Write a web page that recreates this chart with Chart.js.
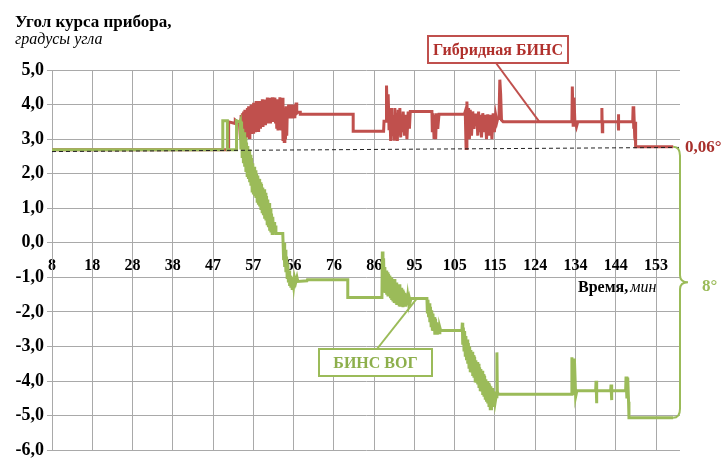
<!DOCTYPE html>
<html>
<head>
<meta charset="utf-8">
<script src="https://cdn.jsdelivr.net/npm/chart.js@4/dist/chart.umd.min.js"></script>
<style>
  html, body { margin: 0; padding: 0; background: #fff; }
  #wrap { width: 721px; height: 464px; position: relative; }
</style>
</head>
<body>
<div id="wrap"><canvas id="chart"></canvas></div>
<script>
// Time axis labels (minutes), evenly spaced along the axis
const timeLabels = ['8','18','28','38','47','57','66','76','86','95','105','115','124','134','144','153'];
const timeStart = 8;
const timeEnd = 153;
const timeMax = 158.75;

// БИНС ВОГ heading, [minute, degrees]
const vogSamples = [
  [8,2.69],[49.0,2.69],[49.0,3.53],[50.1,3.53],[50.1,2.69],[52.3,2.69],[52.3,3.53],[53.1,3.5],
  [53.2,3.53],[53.35,2.7],[53.5,3.5],[53.65,2.5],[53.8,3.3],[53.95,2.3],[54.1,3.2],[54.25,2.2],
  [54.4,3.05],[54.55,2.05],[54.7,2.9],[54.85,1.95],[55.0,2.8],[55.15,1.85],[55.3,2.7],[55.45,1.75],
  [55.6,2.55],[55.75,1.65],[55.9,2.45],[56.05,1.5],[56.2,2.3],[56.35,1.4],[56.5,2.2],[56.65,1.35],
  [56.8,2.1],[56.95,1.3],[57.1,2.0],[57.25,1.2],[57.4,1.95],[57.55,1.1],[57.7,1.85],[57.85,1.05],
  [58.0,1.75],[58.15,0.95],[58.3,1.7],[58.45,0.9],[58.6,1.6],[58.75,0.8],[58.9,1.55],[59.05,0.7],
  [59.2,1.45],[59.35,0.65],[59.5,1.35],[59.65,0.55],[59.8,1.25],[59.95,0.45],[60.1,1.15],[60.25,0.35],
  [60.4,1.0],[60.55,0.3],[60.7,0.85],[60.85,0.27],[61.0,0.75],[61.15,0.27],[61.3,0.6],[61.45,0.27],
  [61.6,0.5],[61.75,0.27],[63.4,0.27],[63.5,-0.1],[63.6,-0.5],[63.7,0.0],[63.85,-0.7],[64.0,-0.2],
  [64.15,-0.85],[64.3,-0.4],[64.45,-1.0],[64.6,-0.6],[64.75,-1.15],[64.9,-0.8],[65.05,-1.25],[65.2,-0.95],
  [65.35,-1.3],[65.5,-1.0],[65.65,-1.32],[65.8,-1.05],[66.0,-1.25],[66.2,-1.0],[66.5,-1.15],[66.8,-1.0],
  [67.0,-1.12],[69.2,-1.1],[69.3,-1.07],[79.0,-1.07],[79.0,-1.58],[87.2,-1.58],
  [87.3,-0.25],[87.45,-1.3],[87.6,-0.45],[87.75,-1.4],[87.9,-0.7],[88.05,-1.45],[88.2,-0.8],[88.35,-1.5],
  [88.5,-0.85],[88.65,-1.55],[88.8,-0.9],[88.95,-1.5],[89.1,-0.95],[89.25,-1.6],[89.4,-1.0],[89.55,-1.65],
  [89.7,-1.05],[89.85,-1.7],[90.0,-1.1],[90.15,-1.7],[90.3,-1.05],[90.45,-1.75],[90.6,-1.15],[90.75,-1.8],
  [90.9,-1.2],[91.05,-1.75],[91.2,-1.25],[91.35,-1.8],[91.5,-1.2],[91.65,-1.85],[91.8,-1.3],[91.95,-1.8],
  [92.1,-1.35],[92.25,-1.86],[92.4,-1.4],[92.55,-1.8],[92.7,-1.45],[92.85,-1.85],[93.0,-1.5],[93.2,-1.8],
  [93.4,-1.55],[93.6,-1.75],[93.8,-1.6],[94.0,-1.7],[94.2,-1.61],[98.0,-1.61],
  [98.1,-2.0],[98.25,-1.65],[98.4,-2.15],[98.55,-1.75],[98.7,-2.3],[98.85,-1.85],[99.0,-2.4],[99.15,-1.95],
  [99.3,-2.5],[99.45,-2.05],[99.6,-2.55],[99.75,-2.15],[99.9,-2.66],[100.05,-2.2],[100.2,-2.6],[100.35,-2.3],
  [100.5,-2.66],[100.7,-2.35],[100.9,-2.6],[101.1,-2.45],[101.3,-2.54],[106.4,-2.54],
  [106.5,-2.31],[106.6,-2.95],[106.75,-2.45],[106.9,-3.1],[107.05,-2.55],[107.2,-3.25],[107.35,-2.7],[107.5,-3.4],
  [107.65,-2.8],[107.8,-3.5],[107.95,-2.9],[108.1,-3.6],[108.25,-3.0],[108.4,-3.7],[108.55,-3.1],[108.7,-3.75],
  [108.85,-3.15],[109.0,-3.85],[109.15,-3.25],[109.3,-3.9],[109.45,-3.3],[109.6,-4.0],[109.75,-3.4],[109.9,-4.05],
  [110.05,-3.45],[110.2,-4.1],[110.35,-3.5],[110.5,-4.2],[110.65,-3.6],[110.8,-4.25],[110.95,-3.65],[111.1,-4.3],
  [111.25,-3.7],[111.4,-4.4],[111.55,-3.8],[111.7,-4.45],[111.85,-3.85],[112.0,-4.5],[112.15,-3.95],[112.3,-4.6],
  [112.45,-4.0],[112.6,-4.65],[112.75,-4.05],[112.9,-4.75],[113.05,-4.1],[113.2,-4.8],[113.35,-4.15],[113.5,-4.84],
  [113.65,-4.2],[113.8,-4.75],[113.95,-4.3],[114.1,-4.7],[114.25,-4.35],[114.4,-4.6],[114.6,-4.45],[114.8,-3.17],
  [114.9,-4.3],[115.1,-4.38],[132.8,-4.38],[132.8,-3.31],[133.1,-4.4],[133.4,-3.35],[133.7,-4.45],[134.0,-4.28],
  [138.5,-4.28],[138.6,-3.99],[138.7,-4.64],[138.8,-4.28],[142.1,-4.28],[142.2,-4.1],[142.3,-4.55],[142.4,-4.28],
  [145.7,-4.28],[145.8,-3.87],[146.0,-4.5],[146.2,-3.9],[146.4,-4.6],[146.5,-5.06],[157.1,-5.06]
];

// Гибридная БИНС heading, [minute, degrees]
const hybridSamples = [
  [8,2.69],[50.4,2.69],[50.4,3.5],[52.0,3.45],[52.0,3.55],[53.0,3.45],
  [53.1,3.45],[53.25,3.0],[53.4,3.7],[53.55,2.9],[53.7,3.75],[53.85,2.95],[54.0,3.8],[54.15,3.0],
  [54.3,3.85],[54.45,2.95],[54.6,3.75],[54.75,3.05],[54.9,3.9],[55.05,3.1],[55.2,3.95],[55.35,3.05],
  [55.5,3.9],[55.65,3.2],[55.8,4.0],[55.95,3.15],[56.1,3.95],[56.25,3.2],[56.4,4.05],[56.55,3.25],
  [56.7,3.95],[56.85,3.2],[57.0,4.1],[57.15,3.3],[57.3,4.0],[57.45,3.25],[57.6,4.1],[57.75,3.35],
  [57.9,4.05],[58.05,3.3],[58.2,4.1],[58.35,3.4],[58.5,4.15],[58.65,3.35],[58.8,4.05],[58.95,3.45],
  [59.1,4.15],[59.25,3.4],[59.4,4.1],[59.55,3.5],[59.7,4.2],[59.85,3.45],[60.0,4.1],[60.15,3.5],
  [60.3,4.2],[60.45,3.45],[60.6,4.15],[60.75,3.55],[60.9,4.21],[61.05,3.5],[61.2,4.15],[61.35,3.55],
  [61.5,4.2],[61.65,3.45],[61.8,4.1],[61.95,3.3],[62.1,4.15],[62.25,3.25],[62.4,4.1],[62.55,3.3],
  [62.7,4.21],[62.85,3.3],[63.0,4.15],[63.15,3.25],[63.3,4.2],[63.45,2.95],[63.6,3.9],[63.75,2.93],
  [63.9,3.85],[64.05,3.0],[64.2,3.95],[64.35,3.1],[64.5,3.9],[64.65,3.6],[64.8,4.0],[64.95,3.65],
  [65.1,3.95],[65.25,3.6],[65.4,4.0],[65.55,3.65],[65.7,3.95],[65.85,3.6],[66.0,4.0],[66.15,3.65],
  [66.3,3.9],[66.45,3.7],[66.6,4.06],[66.75,3.75],[67.0,3.78],[67.6,3.78],[67.6,3.72],[80.3,3.72],
  [80.3,3.23],[87.6,3.23],[87.7,3.52],[88.2,3.52],
  [88.3,4.55],[88.5,3.5],[88.7,4.3],[88.9,3.3],[89.1,3.8],[89.3,2.95],[89.5,3.9],[89.7,3.1],
  [89.9,3.7],[90.1,3.0],[90.3,3.9],[90.5,3.2],[90.7,3.75],[90.9,2.95],[91.1,3.85],[91.3,3.15],
  [91.5,3.9],[91.7,3.05],[91.9,3.7],[92.1,3.2],[92.3,3.8],[92.6,3.1],[92.9,3.7],[93.2,3.0],
  [93.5,3.8],[93.8,3.3],[94.0,3.8],[99.2,3.8],[99.3,3.2],[99.5,3.75],[99.7,3.05],[99.9,3.7],
  [100.1,3.0],[100.3,3.75],[100.6,3.3],[100.9,3.72],[107.0,3.72],[107.2,3.8],[107.4,2.73],[107.6,4.09],
  [107.8,3.2],[108.0,3.9],[108.2,3.0],[108.4,3.85],[108.7,3.1],[109.0,3.8],[109.3,3.3],[109.6,3.7],
  [110.0,3.7],[110.2,3.1],[110.4,3.8],[110.6,3.2],[110.8,3.7],[111.1,3.05],[111.4,3.75],[111.7,3.2],
  [112.0,3.7],[112.3,3.0],[112.6,3.72],[113.0,3.1],[113.3,3.7],[113.6,3.0],[113.9,3.75],[114.2,3.2],
  [114.5,3.7],[114.8,3.5],[115.0,3.6],[115.3,3.6],[115.5,4.72],[115.7,4.3],[115.9,3.55],[116.3,3.5],
  [132.8,3.5],[132.9,4.52],[133.1,3.4],[133.3,4.2],[133.5,3.55],[133.9,3.36],[134.2,3.5],[140.0,3.5],
  [140.0,3.9],[140.1,3.21],[140.2,3.5],[143.9,3.5],[143.9,3.72],[144.0,3.25],[144.1,3.5],[147.4,3.5],
  [147.5,3.95],[147.6,3.3],[147.7,3.9],[147.8,3.36],[148.0,3.5],[148.1,2.78],[157.1,2.78]
];

// Reference (dashed) level
const referenceLine = [[8,2.64],[158.75,2.76]];

const SERIF = '"Liberation Serif","Times New Roman",serif';
const RED = '#c0504d';
const GREEN = '#9bbb59';
const GRID = '#a9a9a9';

const toPoints = arr => arr.map(([x, y]) => ({ x, y }));

const decor = {
  id: 'decor',
  afterDraw(chart) {
    const { ctx, chartArea } = chart;
    const xs = chart.scales.x, ys = chart.scales.y;
    ctx.save();

    // Axis titles
    ctx.fillStyle = '#000';
    ctx.textAlign = 'left';
    ctx.textBaseline = 'alphabetic';
    ctx.font = 'bold 17px ' + SERIF;
    ctx.fillText('Угол курса прибора,', 15, 27);
    ctx.font = 'italic 16px ' + SERIF;
    ctx.fillText('градусы угла', 15, 44);

    ctx.font = 'bold 16px ' + SERIF;
    const w = ctx.measureText('Время,').width;
    ctx.fillText('Время,', 578, 292);
    ctx.font = 'italic 16px ' + SERIF;
    ctx.fillText('мин', 578 + w + 2, 292);

    // Brace spanning the final headings of both systems
    const hybEnd = hybridSamples[hybridSamples.length - 1];
    const vogEnd = vogSamples[vogSamples.length - 1];
    const x0 = xs.getPixelForValue(vogEnd[0]);
    const yTop = ys.getPixelForValue(hybEnd[1]);
    const yBot = ys.getPixelForValue(vogEnd[1]);
    const xr = chartArea.right;
    const ym = (yTop + yBot) / 2;
    ctx.strokeStyle = GREEN;
    ctx.lineWidth = 2;
    ctx.beginPath();
    ctx.moveTo(x0, yTop);
    ctx.quadraticCurveTo(xr, yTop, xr, yTop + 9);
    ctx.lineTo(xr, ym - 7);
    ctx.quadraticCurveTo(xr, ym, xr + 8, ym);
    ctx.quadraticCurveTo(xr, ym, xr, ym + 7);
    ctx.lineTo(xr, yBot - 9);
    ctx.quadraticCurveTo(xr, yBot, x0, yBot);
    ctx.stroke();

    ctx.font = 'bold 17px ' + SERIF;
    ctx.fillStyle = GREEN;
    ctx.fillText('8°', 702, 291);
    ctx.fillStyle = '#a8302c';
    ctx.fillText('0,06°', 685, 152);

    // Callout boxes with leader lines
    const callout = (bx1, by1, bx2, by2, ax, ay, tx, ty, stroke, color, text) => {
      ctx.strokeStyle = stroke;
      ctx.lineWidth = 2;
      ctx.beginPath();
      ctx.moveTo(ax, ay);
      ctx.lineTo(xs.getPixelForValue(tx), ys.getPixelForValue(ty));
      ctx.stroke();
      ctx.fillStyle = '#fff';
      ctx.fillRect(bx1, by1, bx2 - bx1, by2 - by1);
      ctx.strokeRect(bx1, by1, bx2 - bx1, by2 - by1);
      ctx.fillStyle = color;
      ctx.font = 'bold 16px ' + SERIF;
      ctx.textAlign = 'center';
      ctx.textBaseline = 'middle';
      ctx.fillText(text, (bx1 + bx2) / 2, (by1 + by2) / 2 + 1);
    };
    callout(428, 36, 568, 63, 496, 63, 125, 3.5, RED, '#b0302c', 'Гибридная БИНС');
    callout(319, 349, 432, 376, 377, 349, 95.6, -1.61, GREEN, '#8daf4c', 'БИНС ВОГ');

    ctx.restore();
  }
};

new Chart(document.getElementById('chart'), {
  type: 'line',
  data: {
    datasets: [
      {
        label: 'reference',
        data: toPoints(referenceLine),
        borderColor: '#222',
        borderWidth: 1,
        borderDash: [4, 3],
        pointRadius: 0,
        tension: 0
      },
      {
        label: 'БИНС ВОГ',
        data: toPoints(vogSamples),
        borderColor: GREEN,
        borderWidth: 3,
        pointRadius: 0,
        tension: 0
      },
      {
        label: 'Гибридная БИНС',
        data: toPoints(hybridSamples),
        borderColor: RED,
        borderWidth: 3,
        pointRadius: 0,
        tension: 0
      }
    ]
  },
  options: {
    responsive: true,
    maintainAspectRatio: false,
    animation: false,
    events: [],
    layout: { padding: { left: 0, top: 70, right: 41, bottom: 6 } },
    plugins: { legend: { display: false }, tooltip: { enabled: false } },
    scales: {
      x: {
        type: 'linear',
        position: { y: 0 },
        min: timeStart,
        max: timeMax,
        afterBuildTicks(scale) {
          const step = (timeEnd - timeStart) / (timeLabels.length - 1);
          scale.ticks = timeLabels.map((_, i) => ({ value: timeStart + i * step }));
        },
        ticks: {
          autoSkip: false,
          maxRotation: 0,
          padding: 13,
          color: '#000',
          font: { family: SERIF, size: 16, weight: 'bold' },
          callback: (v, i) => timeLabels[i]
        },
        grid: { color: GRID, lineWidth: 1, drawTicks: false },
        border: { color: GRID, width: 1 }
      },
      y: {
        min: -6,
        max: 5,
        afterFit(scale) { scale.width = 52; },
        ticks: {
          stepSize: 1,
          padding: 3,
          color: '#000',
          font: { family: SERIF, size: 18, weight: 'bold' },
          callback: v => v.toFixed(1).replace('.', ',')
        },
        grid: { color: GRID, lineWidth: 1, tickLength: 5 },
        border: { color: GRID, width: 1 }
      }
    }
  },
  plugins: [decor]
});
</script>
</body>
</html>
